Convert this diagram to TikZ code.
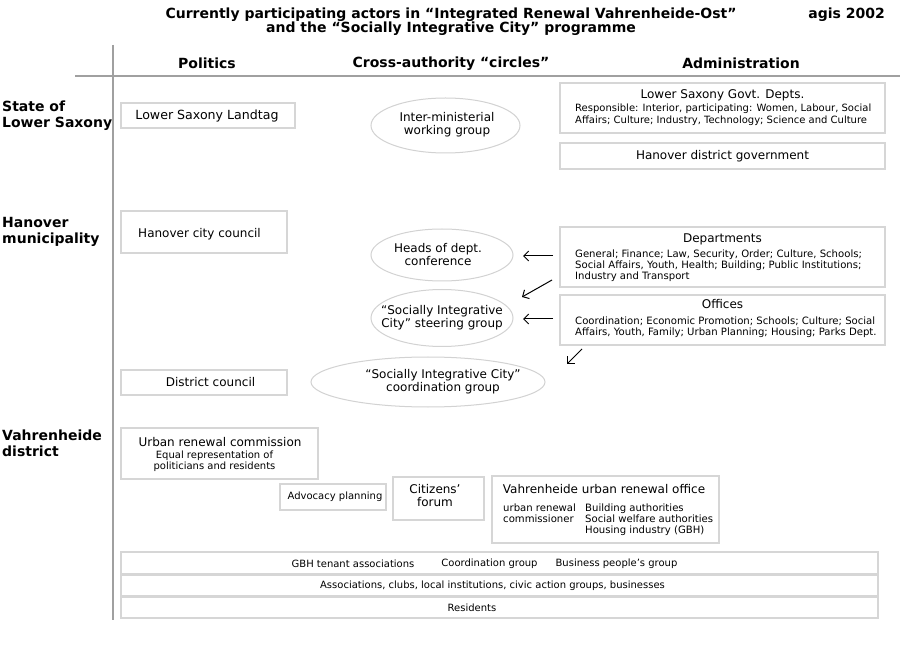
\documentclass[tikz,border=0pt]{standalone}
\usepackage{fontspec}
\setmainfont{DejaVu Sans}
\usetikzlibrary{shapes.geometric,arrows.meta}
\definecolor{boxgray}{HTML}{D6D6D6}
\definecolor{ellgray}{HTML}{D2D2D2}
\definecolor{linegray}{HTML}{A0A0A0}
\begin{document}
\begin{tikzpicture}[x=1pt,y=-1pt,
  box/.style={draw=boxgray, line width=1.2pt, rectangle, inner sep=0pt},
  ell/.style={draw=ellgray, line width=1pt, ellipse, inner sep=0pt},
  tbig/.style={font=\fontsize{12}{13}\selectfont, inner sep=0pt, align=center},
  tsmall/.style={font=\fontsize{10}{11}\selectfont, inner sep=0pt},
  tlist/.style={font=\fontsize{10.1}{11}\selectfont, inner sep=0pt, align=left, anchor=north west},
  hdr/.style={font=\bfseries\fontsize{14}{16}\selectfont, inner sep=0pt},
  rowlab/.style={font=\bfseries\fontsize{14}{16}\selectfont, inner sep=0pt, align=left, anchor=west},
  sep/.style={draw=linegray, line width=1.4pt},
  arr/.style={-{Straight Barb[length=5pt,width=10pt]}, line width=1pt, black}]
\useasboundingbox[fill=white] (0,0) rectangle (900,660);

% title
\node[hdr, align=center, font=\bfseries\fontsize{14}{14}\selectfont] (title) at (451,21.5)
  {Currently participating actors in “Integrated Renewal Vahrenheide-Ost”\\and the “Socially Integrative City” programme};
\node[hdr, anchor=east] (agis) at (885,14.5) {agis 2002};

% separators
\coordinate (vtop) at (113,45);
\coordinate (vbot) at (113,620);
\coordinate (hl) at (75,76);
\coordinate (hr) at (900,76);
\draw[sep] (vtop) -- (vbot);
\draw[sep] (hl) -- (hr);

% column headers
\node[hdr] (hpol) at (207,63.5) {Politics};
\node[hdr] (hcross) at (451,63.5) {Cross-authority “circles”};
\node[hdr] (hadm) at (741,63.5) {Administration};

% row labels
\node[rowlab] (rstate) at (2,115.5) {State of\\Lower Saxony};
\node[rowlab] (rhan) at (2,232) {Hanover\\municipality};
\node[rowlab] (rvah) at (2,443.5) {Vahrenheide\\district};

% State level
\node[box, minimum width=174pt, minimum height=25pt] (landtag) at (208,115.5) {};
\node[tbig, font=\fontsize{12.6}{13}\selectfont] (landtagt) at (207,116) {Lower Saxony Landtag};

\node[ell, minimum width=149pt, minimum height=55pt] (inter) at (445.5,125.5) {};
\node[tbig] (intert) at (447,125) {Inter-ministerial\\working group};

\node[box, minimum width=325pt, minimum height=50pt] (govt) at (722.5,108) {};
\node[tbig] (govtt) at (722.5,95) {Lower Saxony Govt. Depts.};
\node[tlist, font=\fontsize{10}{11.5}\selectfont] (govtl) at (575,104) {Responsible: Interior, participating: Women, Labour, Social\\Affairs; Culture; Industry, Technology; Science and Culture};

\node[box, minimum width=325pt, minimum height=26pt] (hdg) at (722.5,156) {};
\node[tbig] (hdgt) at (722.5,156) {Hanover district government};

% Hanover municipality
\node[box, minimum width=166pt, minimum height=42pt] (city) at (204,232) {};
\node[tbig] (cityt) at (199.5,234) {Hanover city council};

\node[ell, minimum width=142pt, minimum height=52pt] (heads) at (442,255) {};
\node[tbig] (headst) at (438,255) {Heads of dept.\\conference};

\node[box, minimum width=325pt, minimum height=60pt] (dept) at (722.5,257) {};
\node[tbig] (deptt) at (722.5,239) {Departments};
\node[tlist] (deptl) at (575,250) {General; Finance; Law, Security, Order; Culture, Schools;\\Social Affairs, Youth, Health; Building; Public Institutions;\\Industry and Transport};

\node[ell, minimum width=142pt, minimum height=57pt] (steer) at (442,318) {};
\node[tbig] (steert) at (442,318) {“Socially Integrative\\City” steering group};

\node[box, minimum width=325pt, minimum height=50pt] (off) at (722.5,320) {};
\node[tbig] (offt) at (722.5,304) {Offices};
\node[tlist] (offl) at (575,317) {Coordination; Economic Promotion; Schools; Culture; Social\\Affairs, Youth, Family; Urban Planning; Housing; Parks Dept.};

\node[ell, minimum width=234pt, minimum height=50pt] (coord) at (428,382) {};
\node[tbig] (coordt) at (443,382) {“Socially Integrative City”\\coordination group};

\node[box, minimum width=166pt, minimum height=25pt] (dc) at (204,382.5) {};
\node[tbig] (dct) at (210.5,382) {District council};

% arrows
\coordinate (a1s) at (553,256); \coordinate (a1e) at (523,256);
\coordinate (a2s) at (552,280); \coordinate (a2e) at (522,297);
\coordinate (a3s) at (553,319); \coordinate (a3e) at (523,319);
\coordinate (a4s) at (582,349); \coordinate (a4e) at (567,364);
\draw[arr] (a1s) -- (a1e);
\draw[arr] (a2s) -- (a2e);
\draw[arr] (a3s) -- (a3e);
\draw[arr] (a4s) -- (a4e);

% Vahrenheide district
\node[box, minimum width=197pt, minimum height=51pt] (urc) at (219.5,453.5) {};
\node[tbig] (urct) at (220,442) {Urban renewal commission};
\node[tsmall, align=center] (urcs) at (214.5,461.5) {Equal representation of\\politicians and residents};

\node[box, minimum width=106pt, minimum height=26pt] (adv) at (333,497) {};
\node[tsmall] (advt) at (335,497) {Advocacy planning};

\node[box, minimum width=91pt, minimum height=43pt] (cit) at (438.5,498.5) {};
\node[tbig] (citt) at (435,495.5) {Citizens’\\forum};

\node[box, minimum width=227pt, minimum height=67pt] (uro) at (605.5,509.5) {};
\node[tbig] (urot) at (604,489) {Vahrenheide urban renewal office};
\node[tlist] (urol) at (503,504) {urban renewal\\commissioner};
\node[tlist] (uror) at (585,504) {Building authorities\\Social welfare authorities\\Housing industry (GBH)};

% bands
\node[box, minimum width=757pt, minimum height=22pt] (gbhrow) at (499.5,563) {};
\node[box, minimum width=757pt, minimum height=21pt] (assocrow) at (499.5,585.5) {};
\node[box, minimum width=757pt, minimum height=21pt] (resrow) at (499.5,607.5) {};
\node[tsmall] (gbh) at (353,563.5) {GBH tenant associations};
\node[tsmall] (cg) at (489.5,563.5) {Coordination group};
\node[tsmall] (bpg) at (616.5,563.5) {Business people’s group};
\node[tsmall] (assoc) at (492.5,585.5) {Associations, clubs, local institutions, civic action groups, businesses};
\node[tsmall] (res) at (472,607.5) {Residents};
\end{tikzpicture}
\end{document}
